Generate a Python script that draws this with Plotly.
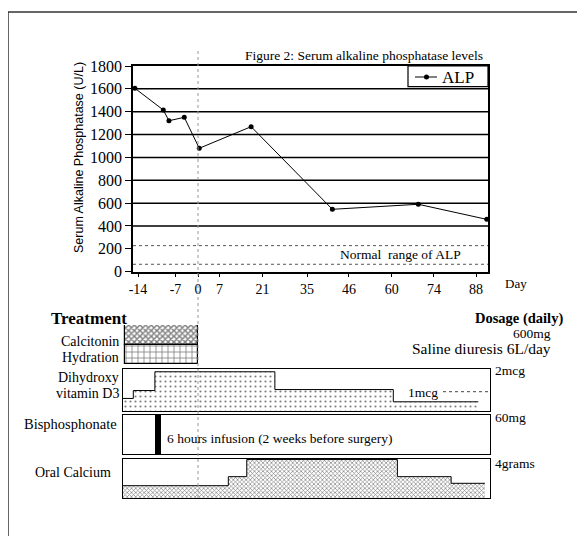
import plotly.graph_objects as go

# The page adds an 8px body margin, so the figure is sized to fit the window.
OFF = 8
W, H = 585 - OFF, 538 - OFF
SERIF = "Liberation Serif"
SANS = "Liberation Sans"

# ---------------- data ----------------
# The day axis of the original figure is not linear; positions are given in
# axis units (roughly days, 0 = surgery) and labelled with the printed days.
day_tick_labels = ["-14", "-7", "0", "7", "21", "35", "46", "60", "74", "88"]
day_tick_pos = [-19.2, -7.2, 0, 6.9, 20.6, 34.9, 48.3, 62.0, 75.5, 89.0]

alp_pos = [-20.2, -11.1, -9.3, -4.4, 0.4, 17.0, 43.0, 70.5, 92.4]
alp_values = [1605, 1415, 1321, 1351, 1080, 1269, 546, 590, 458]

alp_ticks = [0, 200, 400, 600, 800, 1000, 1200, 1400, 1600, 1800]
alp_grid = [400, 600, 800, 1000, 1200, 1400, 1600]
normal_range = [65, 228]

calcitonin_span = [-23.4, 0.1]
hydration_span = [-23.4, 0.1]

vitd_edges = [-24.1, -20.7, -13.8, 24.6, 62.5, 89.7]
vitd_doses = [0.65, 1.05, 2.0, 1.1, 0.48]          # mcg

bisphos_span = [-13.4, -11.9]

calcium_edges = [-24.1, 9.7, 15.6, 63.8, 81.0, 91.8]
calcium_doses = [1.28, 2.22, 4.0, 2.22, 1.53]      # grams


# ---------------- layout helpers (page pixel -> paper) ----------------
def px_x(p):
    return (p - OFF) / W


def px_y(p):
    return 1 - (p - OFF) / H


top_dom_x = [px_x(133), px_x(488)]
top_dom_y = [px_y(271.7), px_y(66)]
top_range = [-20.8, 92.8]

low_dom_x = [px_x(123), px_x(490)]
low_range = [-24.0, 93.44]

fig = go.Figure()

# ALP line
fig.add_trace(go.Scatter(
    x=alp_pos, y=alp_values, name="ALP", mode="lines+markers",
    line=dict(color="black", width=1),
    marker=dict(color="black", size=5),
    cliponaxis=False, xaxis="x", yaxis="y", showlegend=False))

# Calcitonin / Hydration
fig.add_trace(go.Bar(
    orientation="h", y=["Calcitonin"],
    x=[calcitonin_span[1] - calcitonin_span[0]], base=[calcitonin_span[0]],
    width=1, xaxis="x2", yaxis="y2", showlegend=False,
    marker=dict(color="white", line=dict(color="black", width=1.2),
                pattern=dict(shape="x", size=4, solidity=0.6,
                             fgcolor="black", bgcolor="white"))))
fig.add_trace(go.Bar(
    orientation="h", y=["Hydration"],
    x=[hydration_span[1] - hydration_span[0]], base=[hydration_span[0]],
    width=1, xaxis="x2", yaxis="y2", showlegend=False,
    marker=dict(color="white", line=dict(color="black", width=1.2),
                pattern=dict(shape="+", size=6, solidity=0.25,
                             fgcolor="black", bgcolor="white"))))

# Vitamin D3 steps
fig.add_trace(go.Scatter(
    x=vitd_edges, y=vitd_doses + [vitd_doses[-1]], mode="lines",
    line=dict(color="black", width=1, shape="hv"), fill="tozeroy",
    fillcolor="white",
    fillpattern=dict(shape=".", size=5, solidity=0.15,
                     fgcolor="black", bgcolor="white"),
    xaxis="x3", yaxis="y3", showlegend=False))

# Bisphosphonate infusion
fig.add_trace(go.Bar(
    orientation="h", y=["Bisphosphonate"],
    x=[bisphos_span[1] - bisphos_span[0]], base=[bisphos_span[0]],
    width=1, xaxis="x4", yaxis="y4", showlegend=False,
    marker=dict(color="black", line=dict(color="black", width=1))))

# Oral calcium steps
fig.add_trace(go.Scatter(
    x=calcium_edges, y=calcium_doses + [calcium_doses[-1]], mode="lines",
    line=dict(color="black", width=1, shape="hv"), fill="tozeroy",
    fillcolor="white",
    fillpattern=dict(shape="x", size=3, solidity=0.4,
                     fgcolor="black", bgcolor="white"),
    xaxis="x5", yaxis="y5", showlegend=False))

tickfont_y = dict(family=SERIF, size=16, color="black")
tickfont_x = dict(family=SERIF, size=14, color="black")

box_axis = dict(showline=True, mirror=True, linecolor="black", linewidth=1.2,
                showgrid=False, zeroline=False, showticklabels=False,
                ticks="", automargin=False, fixedrange=True)

fig.update_layout(
    width=W, height=H,
    margin=dict(l=0, r=0, t=0, b=0),
    paper_bgcolor="white", plot_bgcolor="rgba(0,0,0,0)",
    font=dict(family=SERIF, color="black"),
    bargap=0, showlegend=False,
    title=dict(text="Figure 2: Serum alkaline phosphatase levels",
               x=px_x(483), xanchor="right", y=px_y(55), yanchor="middle",
               font=dict(family=SERIF, size=13.5, color="black")),
    xaxis=dict(domain=top_dom_x, range=top_range, tickmode="array",
               tickvals=day_tick_pos, ticktext=day_tick_labels,
               tickfont=tickfont_x, ticks="outside", ticklen=4,
               tickcolor="black", showline=True, mirror=True,
               linecolor="black", linewidth=1.5, showgrid=False,
               zeroline=False, automargin=False, anchor="y"),
    yaxis=dict(domain=top_dom_y, range=[0, 1800], tickmode="array",
               tickvals=alp_ticks, tickfont=tickfont_y, ticks="outside",
               ticklen=6, tickcolor="black", showline=True, mirror=True,
               linecolor="black", linewidth=1.5, showgrid=False,
               zeroline=False, automargin=False, anchor="x"),
    xaxis2=dict(domain=low_dom_x, range=low_range, anchor="y2",
                visible=False, fixedrange=True),
    yaxis2=dict(domain=[px_y(364), px_y(325)], anchor="x2", visible=False,
                type="category", categoryorder="array",
                categoryarray=["Hydration", "Calcitonin"], range=[-0.5, 1.5]),
    xaxis3=dict(domain=low_dom_x, range=low_range, anchor="y3", **box_axis),
    yaxis3=dict(domain=[px_y(411.3), px_y(369)], range=[0, 2.14],
                anchor="x3", **box_axis),
    xaxis4=dict(domain=low_dom_x, range=low_range, anchor="y4", **box_axis),
    yaxis4=dict(domain=[px_y(454), px_y(414.5)], anchor="x4",
                range=[-0.5, 0.5], **box_axis),
    xaxis5=dict(domain=low_dom_x, range=low_range, anchor="y5", **box_axis),
    yaxis5=dict(domain=[px_y(498), px_y(458.6)], range=[0, 4.1],
                anchor="x5", **box_axis),
)

shapes = []
# horizontal grid lines of the ALP panel
for v in alp_grid:
    shapes.append(dict(type="line", xref="x domain", yref="y", x0=0, x1=1,
                       y0=v, y1=v, layer="below",
                       line=dict(color="black", width=1.5)))
# normal range dotted lines
for v in normal_range:
    shapes.append(dict(type="line", xref="x domain", yref="y", x0=0, x1=1,
                       y0=v, y1=v, line=dict(color="#555", width=1,
                                             dash="dot")))
# day 0 marker (surgery)
shapes.append(dict(type="line", xref="x", yref="paper", x0=0, x1=0,
                   y0=px_y(498), y1=px_y(50),
                   line=dict(color="#999", width=1, dash="dot")))
# 1mcg leader
shapes.append(dict(type="line", xref="paper", yref="paper",
                   x0=px_x(443), x1=px_x(488), y0=px_y(391.7), y1=px_y(391.7),
                   line=dict(color="#444", width=1, dash="dot")))
# legend box for ALP
shapes.append(dict(type="rect", xref="paper", yref="paper",
                   x0=px_x(408), x1=px_x(488), y0=px_y(86.7), y1=px_y(66),
                   fillcolor="white", line=dict(color="black", width=1.2)))
shapes.append(dict(type="line", xref="paper", yref="paper",
                   x0=px_x(415), x1=px_x(437), y0=px_y(77), y1=px_y(77),
                   line=dict(color="black", width=1)))
shapes.append(dict(type="circle", xref="paper", yref="paper",
                   x0=px_x(424), x1=px_x(429), y0=px_y(79.5), y1=px_y(74.5),
                   fillcolor="black", line=dict(color="black", width=0)))
# outer frame (top and left edges)
shapes.append(dict(type="line", xref="paper", yref="paper",
                   x0=px_x(8), x1=1, y0=px_y(12), y1=px_y(12),
                   line=dict(color="#333", width=1.5)))
shapes.append(dict(type="line", xref="paper", yref="paper",
                   x0=px_x(8), x1=px_x(8), y0=px_y(536), y1=px_y(12),
                   line=dict(color="#333", width=1.5)))
fig.update_layout(shapes=shapes)


def ann(text, x, y, xanchor="left", size=13, bold=False, family=SERIF,
        angle=0):
    if bold:
        text = "<b>" + text + "</b>"
    return dict(text=text, x=px_x(x), y=px_y(y), xref="paper", yref="paper",
                xanchor=xanchor, yanchor="middle", showarrow=False,
                textangle=angle,
                font=dict(family=family, size=size, color="black"))


annotations = [
    ann("Serum Alkaline Phosphatase (U/L)", 79, 158, "center", 12.5,
        family=SANS, angle=-90),
    ann("ALP", 440, 77.5, "left", 17),
    ann("Normal  range of ALP", 400, 254.3, "center", 13.5),
    ann("Day", 503, 283, "left", 13),
    ann("Treatment", 89, 318, "center", 17, bold=True),
    ann("Dosage (daily)", 565, 318, "right", 14.5, bold=True),
    ann("600mg", 553, 333, "right", 13.5),
    ann("Saline diuresis 6L/day", 553, 348, "right", 15.5),
    ann("Calcitonin", 121, 341, "right", 14),
    ann("Hydration", 121, 357, "right", 14),
    ann("Dihydroxy", 121, 377, "right", 14),
    ann("vitamin D3", 121, 393, "right", 14),
    ann("Bisphosphonate", 119, 424, "right", 14.5),
    ann("Oral Calcium", 113, 472, "right", 14),
    ann("2mcg", 493, 370, "left", 13.5),
    ann("1mcg", 406, 392, "left", 13.5),
    ann("60mg", 493, 417, "left", 13.5),
    ann("4grams", 493, 463, "left", 13.5),
    ann("6 hours infusion (2 weeks before surgery)", 165, 438, "left", 13.5),
]
fig.update_layout(annotations=annotations)

fig.write_html("out.html")
